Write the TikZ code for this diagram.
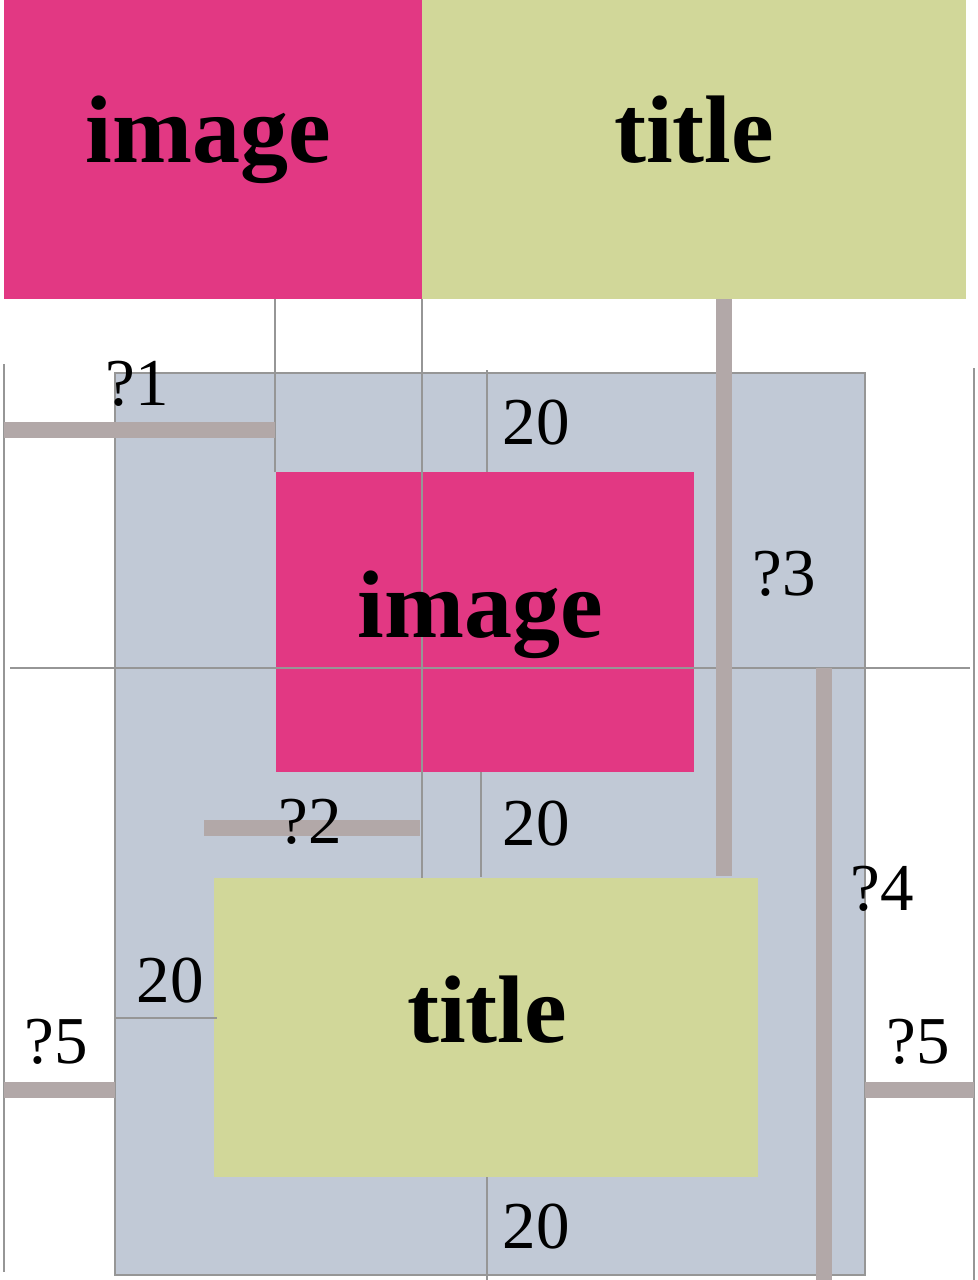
\documentclass[tikz,border=0pt]{standalone}
\usepackage{fontspec}
\setmainfont{Liberation Serif}
\definecolor{pinkbox}{RGB}{226,56,131}
\definecolor{greenbox}{RGB}{209,215,153}
\definecolor{bluebox}{RGB}{193,201,214}
\definecolor{barcol}{RGB}{178,168,168}
\definecolor{thincol}{RGB}{150,150,150}
\tikzset{
  thinline/.style={draw=thincol, line width=0.75pt},
  thickbar/.style={draw=barcol, line width=7.8pt},
  bigtext/.style={font=\fontsize{48}{56}\selectfont\bfseries, anchor=base, inner sep=0pt},
  lbl/.style={font=\fontsize{33.5}{40}\selectfont, anchor=base, inner sep=0pt},
}
\begin{document}
\begin{tikzpicture}[x=0.5pt,y=-0.5pt]
\useasboundingbox (0,0) rectangle (978,1280);
\fill[white] (0,0) rectangle (978,1280);
% top boxes
\fill[pinkbox] (4,0) rectangle (422,299);
\fill[greenbox] (422,0) rectangle (966,299);
\node[bigtext] (timg) at (208,162) {image};
\node[bigtext] (ttitle) at (694,162) {title};
% container
\filldraw[fill=bluebox, draw=thincol, line width=0.75pt] (115,373) rectangle (865,1275);
% inner boxes
\fill[pinkbox] (276,472) rectangle (694,772);
\fill[greenbox] (214,878) rectangle (758,1177);
% thin guide lines
\draw[thinline] (4,364) -- (4,1272);
\draw[thinline] (974,368) -- (974,1280);
\draw[thinline] (10,668) -- (970,668);
\draw[thinline] (275,299) -- (275,472);
\draw[thinline] (422,299) -- (422,878);
\draw[thinline] (487,370) -- (487,472);
\draw[thinline] (481,772) -- (481,877);
\draw[thinline] (487,1177) -- (487,1280);
\draw[thinline] (115,1018) -- (217,1018);
% thick bars
\draw[thickbar] (4,430) -- (275,430);
\draw[thickbar] (724,299) -- (724,876);
\draw[thickbar] (204,828) -- (420,828);
\draw[thickbar] (824,668) -- (824,1280);
\draw[thickbar] (4,1090) -- (115,1090);
\draw[thickbar] (865,1090) -- (974,1090);
% labels
\node[bigtext] (iimg) at (480,637) {image};
\node[bigtext] (ititle) at (487,1042) {title};
\node[lbl] (q1) at (137,405) {?1};
\node[lbl] (d1) at (536,444) {20};
\node[lbl] (q3) at (784,595) {?3};
\node[lbl] (q2) at (310,843) {?2};
\node[lbl] (d2) at (536,845) {20};
\node[lbl] (q4) at (882,910) {?4};
\node[lbl] (d3) at (170,1002) {20};
\node[lbl] (q5a) at (56,1063) {?5};
\node[lbl] (q5b) at (918,1063) {?5};
\node[lbl] (d4) at (536,1248) {20};
\end{tikzpicture}
\end{document}
